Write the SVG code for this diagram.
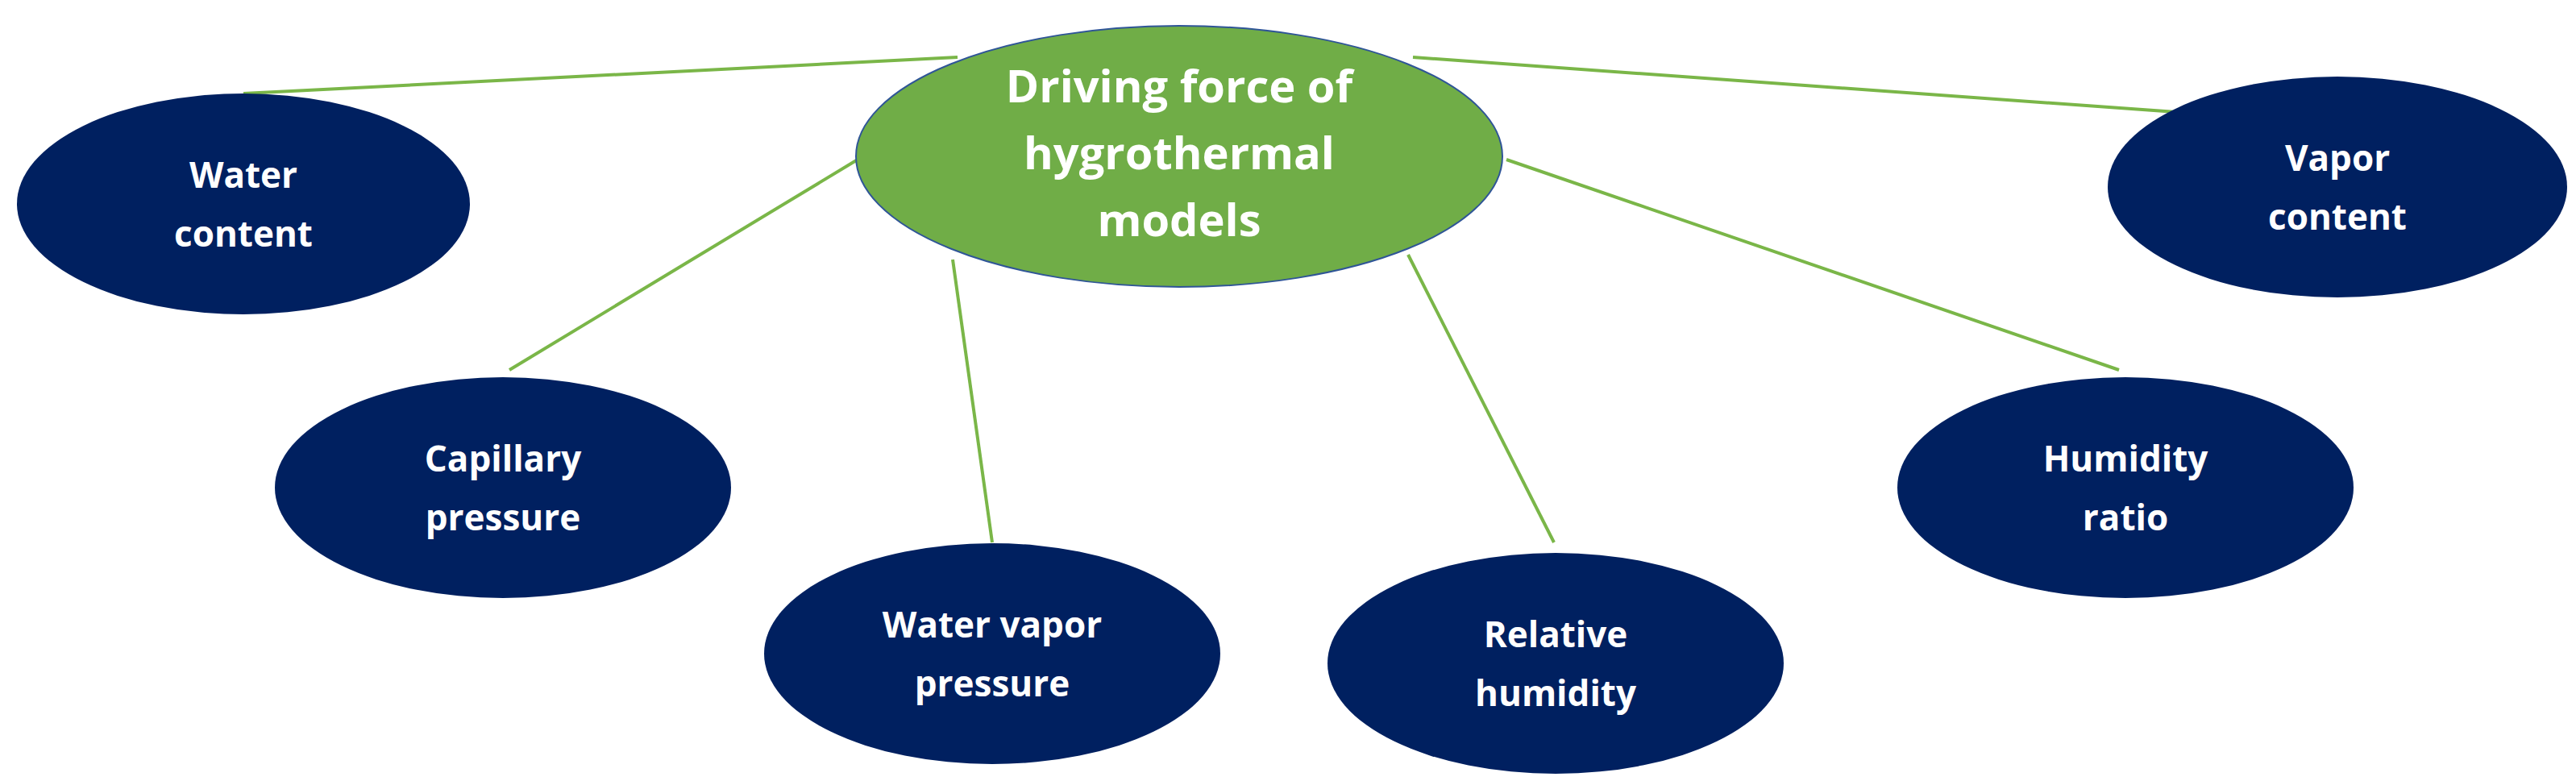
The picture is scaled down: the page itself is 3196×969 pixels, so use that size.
<svg xmlns="http://www.w3.org/2000/svg" width="3196" height="969" viewBox="0 0 3196 969">
<style>
.n{fill:#002060}
.t{font-family:"Open Sans","Liberation Sans",sans-serif;font-weight:bold;font-size:44px;fill:#fff;text-anchor:middle}
.c{stroke:#7AB648;stroke-width:4;fill:none}
</style>
<rect width="3196" height="969" fill="#fff"/>
<g id="connectors">
<line class="c" x1="302" y1="116" x2="1188" y2="71"/>
<line class="c" x1="1753" y1="71" x2="2700" y2="139"/>
<line class="c" x1="632" y1="459" x2="1064" y2="198"/>
<line class="c" x1="1182" y1="322" x2="1231" y2="673"/>
<line class="c" x1="1747" y1="316" x2="1928" y2="673"/>
<line class="c" x1="1869" y1="198" x2="2629" y2="459"/>
</g>
<g id="center">
<ellipse cx="1463" cy="194" rx="401" ry="162" fill="#70AD47" stroke="#2F5597" stroke-width="2"/>
<text class="t" style="font-size:56px"><tspan x="1463" y="127">Driving force of</tspan><tspan x="1463" y="210">hygrothermal</tspan><tspan x="1463" y="293">models</tspan></text>
</g>
<g id="water-content"><ellipse class="n" cx="302" cy="253" rx="281" ry="137"/><text class="t"><tspan x="302" y="233">Water</tspan><tspan x="302" y="306">content</tspan></text></g>
<g id="vapor-content"><ellipse class="n" cx="2900" cy="232" rx="285" ry="137"/><text class="t"><tspan x="2900" y="212">Vapor</tspan><tspan x="2900" y="285">content</tspan></text></g>
<g id="capillary"><ellipse class="n" cx="624" cy="605" rx="283" ry="137"/><text class="t"><tspan x="624" y="585">Capillary</tspan><tspan x="624" y="658">pressure</tspan></text></g>
<g id="water-vapor"><ellipse class="n" cx="1231" cy="811" rx="283" ry="137"/><text class="t"><tspan x="1231" y="791">Water vapor</tspan><tspan x="1231" y="864">pressure</tspan></text></g>
<g id="relative-humidity"><ellipse class="n" cx="1930" cy="823" rx="283" ry="137"/><text class="t"><tspan x="1930" y="803">Relative</tspan><tspan x="1930" y="876">humidity</tspan></text></g>
<g id="humidity-ratio"><ellipse class="n" cx="2637" cy="605" rx="283" ry="137"/><text class="t"><tspan x="2637" y="585">Humidity</tspan><tspan x="2637" y="658">ratio</tspan></text></g>
</svg>
